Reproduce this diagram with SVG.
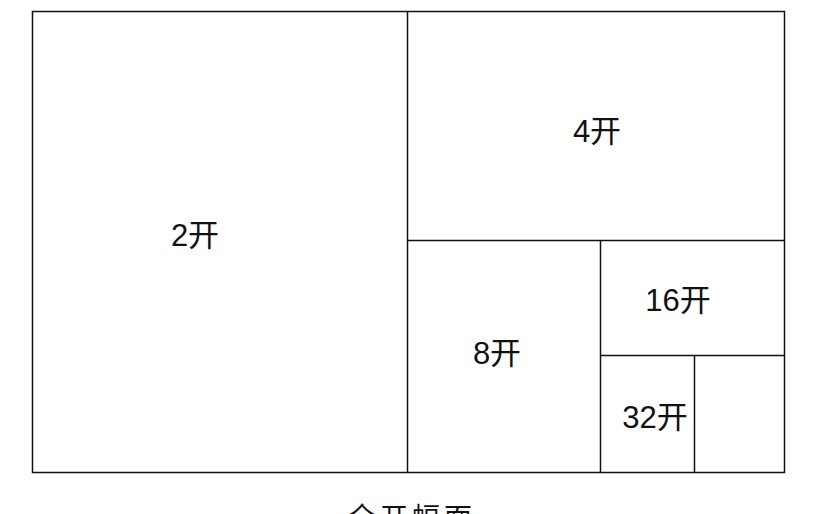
<svg xmlns="http://www.w3.org/2000/svg" width="813" height="514" viewBox="0 0 813 514">
<style>
.b{fill:none;stroke:#111;stroke-width:1.5}
.l{stroke:#111;stroke-width:1.5}
text{font-family:"Liberation Sans","Noto Sans CJK SC",sans-serif;font-size:31px;fill:#111;text-anchor:middle}
</style>
<rect width="813" height="514" fill="#fff"/>
<g id="frame"><rect class="b" x="32.5" y="11.5" width="752" height="461"/></g>
<g id="connectors">
<line class="l" x1="407.5" y1="11" x2="407.5" y2="472"/>
<line class="l" x1="407" y1="240.5" x2="784" y2="240.5"/>
<line class="l" x1="600.5" y1="240" x2="600.5" y2="472"/>
<line class="l" x1="600" y1="355.5" x2="784" y2="355.5"/>
<line class="l" x1="694.5" y1="355" x2="694.5" y2="472"/>
</g>
<g id="n2"><text x="195" y="246">2开</text></g>
<g id="n4"><text x="597" y="142">4开</text></g>
<g id="n8"><text x="497" y="364">8开</text></g>
<g id="n16"><text x="678" y="311">16开</text></g>
<g id="n32"><text x="655" y="428">32开</text></g>
<g id="title"><text x="412" y="528" letter-spacing="4" style="font-family:'Noto Sans CJK SC',sans-serif;font-size:28px">全开幅面</text></g>
</svg>
